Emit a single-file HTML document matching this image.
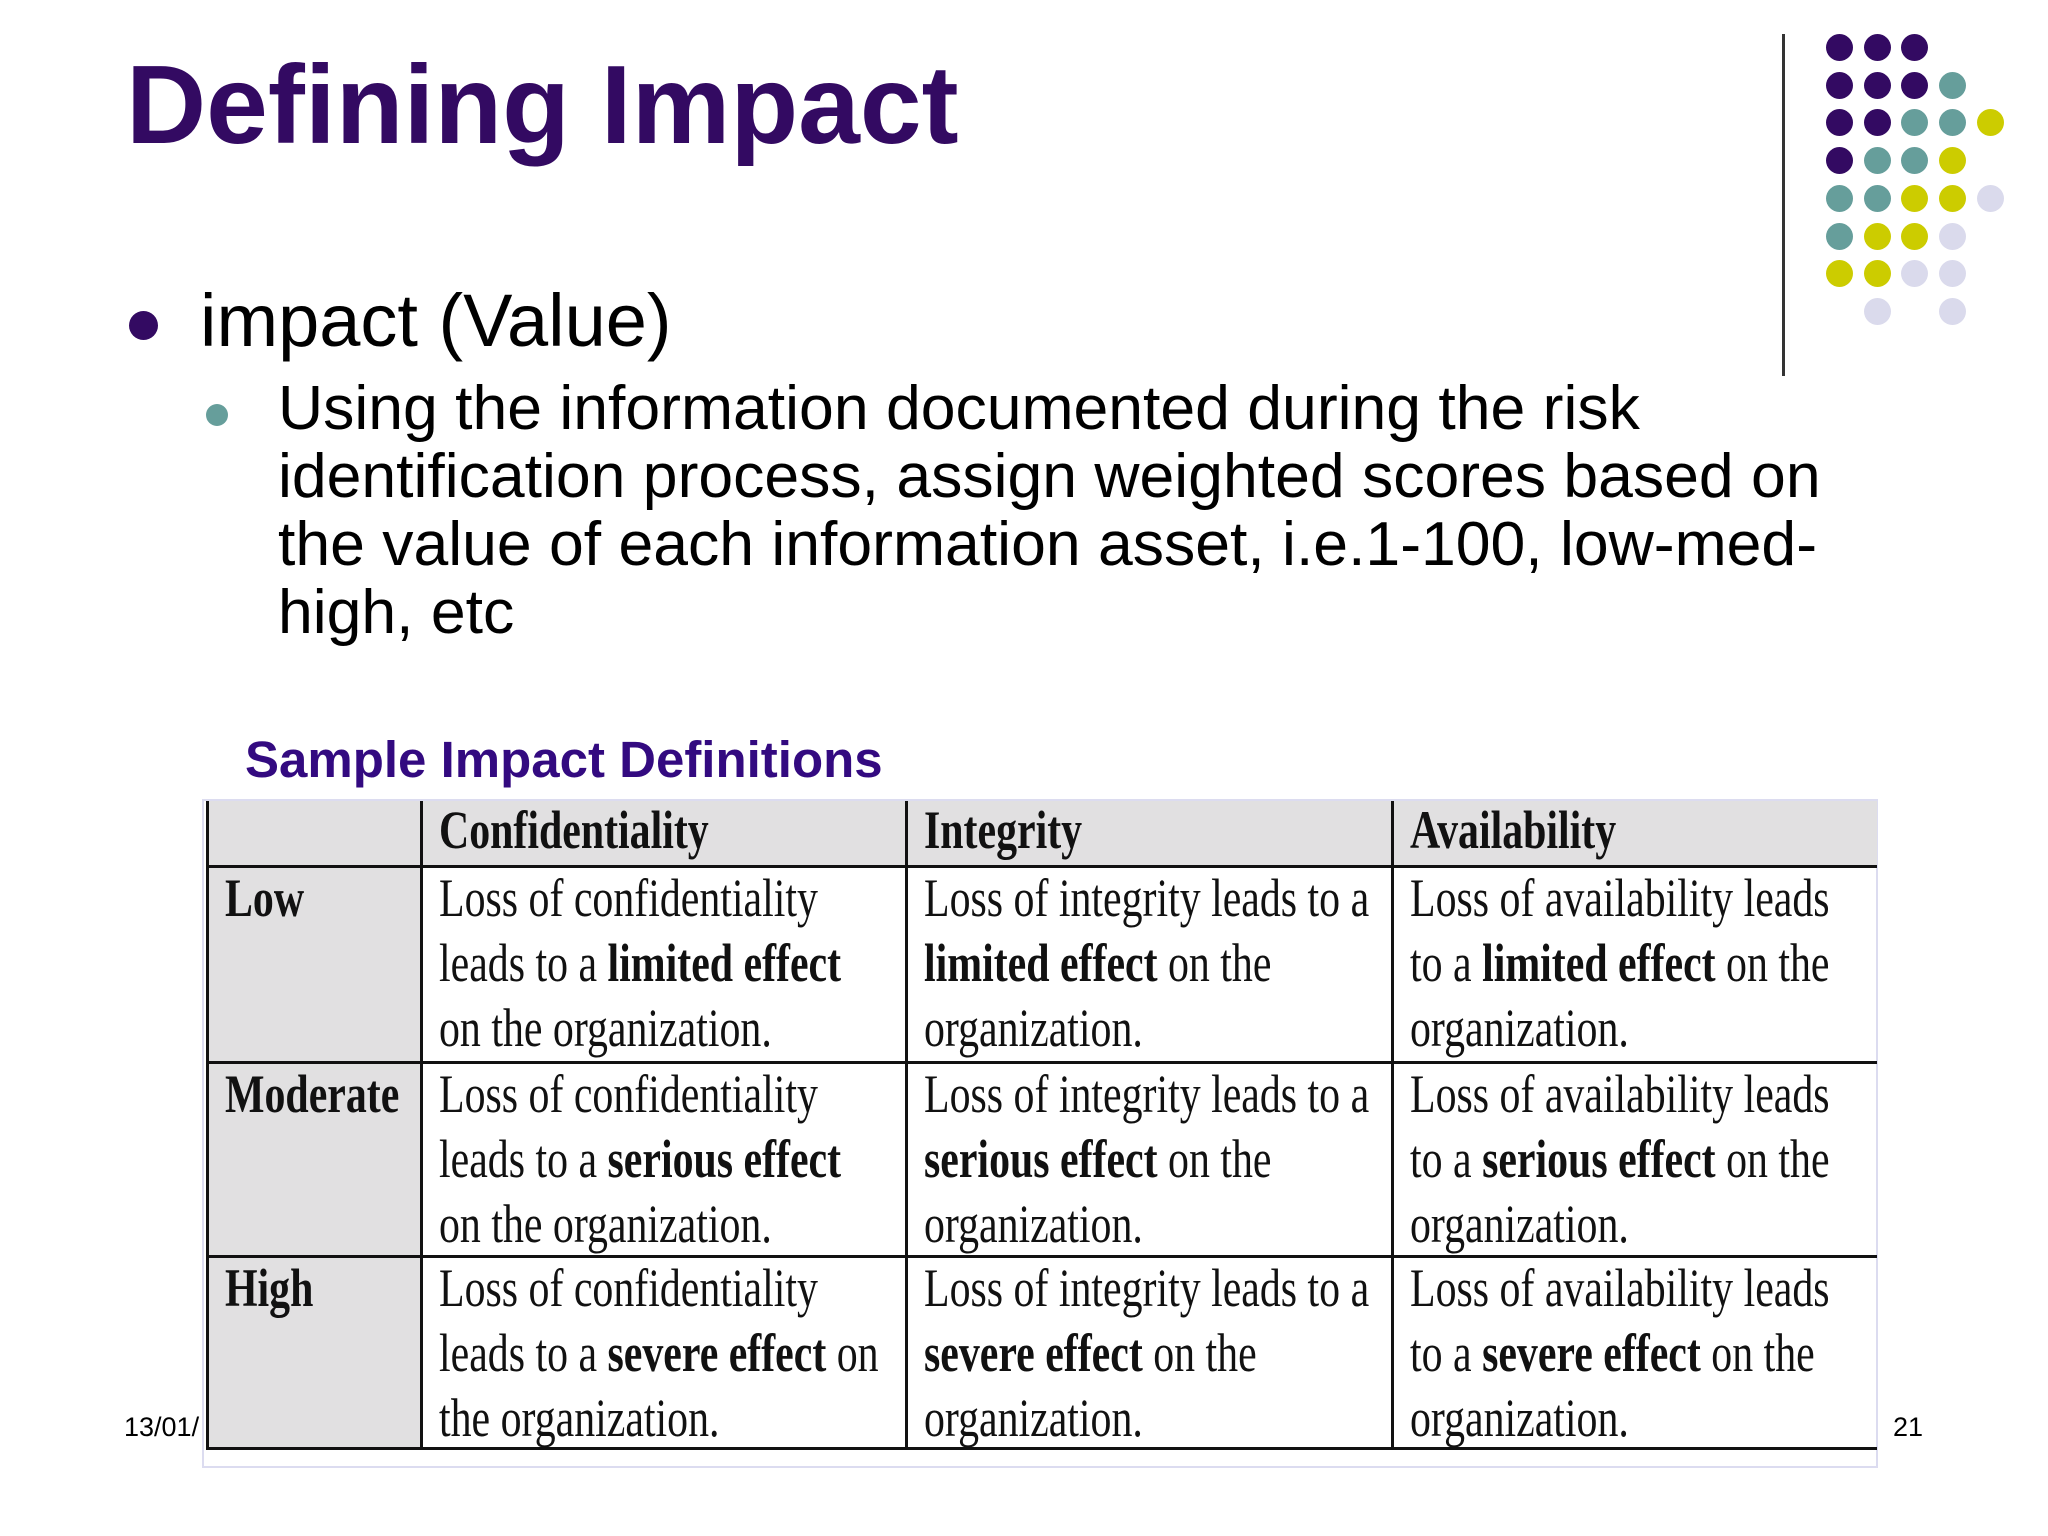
<!DOCTYPE html>
<html><head><meta charset="utf-8"><style>
body{margin:0;width:2048px;height:1536px;background:#fff;position:relative;overflow:hidden;font-family:"Liberation Sans",sans-serif}
.a{position:absolute;white-space:nowrap}
.dot{position:absolute;width:27px;height:27px;border-radius:50%}
.cell{position:absolute;box-sizing:border-box;overflow:visible}
.ct{position:absolute;left:16px;top:-2px;font-family:"Liberation Serif",serif;font-size:54px;line-height:65px;transform:scaleX(0.775);transform-origin:0 0;white-space:nowrap;color:#111}
.grey{background:#e1e0e1}
</style></head><body>
<div class="a" style="left:126px;top:40px;font-size:111px;font-weight:bold;color:#330a62;line-height:130px">Defining Impact</div>
<div style="position:absolute;left:1782px;top:34px;width:3px;height:342px;background:#333"></div>
<div id="dots"></div>
<div style="position:absolute;left:129px;top:311px;width:29px;height:29px;border-radius:50%;background:#330a62"></div>
<div class="a" style="left:200px;top:279px;font-size:74px;line-height:84px">impact (Value)</div>
<div style="position:absolute;left:206px;top:404px;width:22px;height:22px;border-radius:50%;background:#669e9b"></div>
<div class="a" style="left:278px;top:374px;font-size:62.5px;line-height:68px">Using the information documented during the risk<br>identification process, assign weighted scores based on<br>the value of each information asset, i.e.1-100, low-med-<br>high, etc</div>
<div class="a" style="left:245px;top:730px;font-size:51px;font-weight:bold;color:#330a80">Sample Impact Definitions</div>
<div style="position:absolute;left:202px;top:799px;width:1676px;height:669px;border:2px solid #dcdcf0;box-sizing:border-box"></div>
<div id="tbl"></div>
<div class="a" style="left:124px;top:1412px;font-size:27px">13/01/</div>
<div class="a" style="left:1893px;top:1412px;font-size:27px">21</div>
<script>
const dotColors=[
['p','p','p','',''],['p','p','p','t',''],['p','p','t','t','y'],['p','t','t','y',''],
['t','t','y','y','l'],['t','y','y','l',''],['y','y','l','l',''],['','l','','l','']];
const cmap={p:'#330a62',t:'#669e9b',y:'#cccc00',l:'#dadaec'};
const dc=document.getElementById('dots');
dotColors.forEach((row,r)=>row.forEach((c,k)=>{if(!c)return;const d=document.createElement('div');d.className='dot';


d.style.left=(1826+k*37.7)+'px';d.style.top=(34+r*37.7)+'px';d.style.background=cmap[c];dc.appendChild(d);}));
const cols=[206,420,905,1391,1877];
const rows=[801,865,1061,1255,1450];
const headers=['','Confidentiality','Integrity','Availability'];
const levels=['Low','Moderate','High'];
const effects=['limited effect','serious effect','severe effect'];
function body(c,e,lvl){
 if(c===1){return lvl===2?`Loss of confidentiality<br>leads to a <b>${e}</b> on<br>the organization.`:`Loss of confidentiality<br>leads to a <b>${e}</b><br>on the organization.`;}
 if(c===2)return `Loss of integrity leads to a<br><b>${e}</b> on the<br>organization.`;
 return `Loss of availability leads<br>to a <b>${e}</b> on the<br>organization.`;
}
const t=document.getElementById('tbl');
for(let r=0;r<4;r++)for(let c=0;c<4;c++){
 const d=document.createElement('div');d.className='cell'+((r===0||c===0)?' grey':'');
 
 
 d.style.left=cols[c]+'px';d.style.top=rows[r]+'px';d.style.width=(cols[c+1]-cols[c])+'px';d.style.height=(rows[r+1]-rows[r])+'px';
 d.style.borderLeft='3px solid #111';
 if(r>0)d.style.borderTop='3px solid #111';if(r===3)d.style.borderBottom='3px solid #111';
 const s=document.createElement('div');s.className='ct';
 if(r===0){s.innerHTML='<b>'+headers[c]+'</b>';s.style.top='-3px';}
 else if(c===0){s.innerHTML='<b>'+levels[r-1]+'</b>';}
 else s.innerHTML=body(c,effects[r-1],r-1);
 d.appendChild(s);t.appendChild(d);
}
</script>
</body></html>
